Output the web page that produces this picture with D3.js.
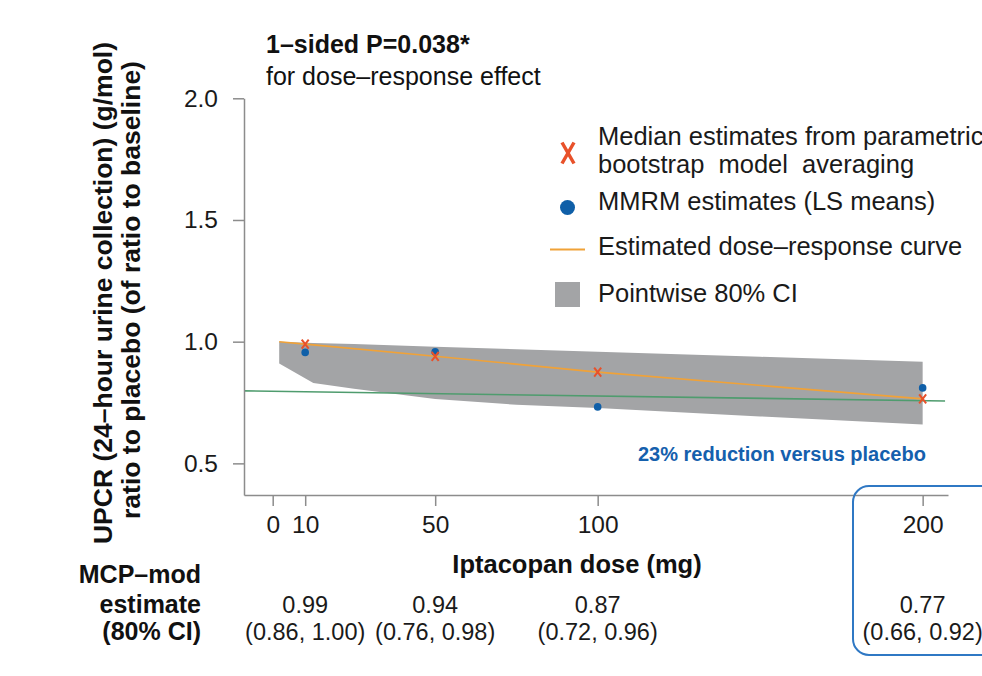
<!DOCTYPE html>
<html>
<head>
  <meta charset="utf-8">
  <title>Iptacopan dose-response</title>
  <script src="https://cdn.jsdelivr.net/npm/d3@7"></script>
  <style>
    body { margin: 0; background: #fff; }
    svg { font-family: "Liberation Sans", Arial, sans-serif; display: block; }
    .axis path, .axis line { stroke: #8c8c8c; stroke-width: 1.5; }
    .axis text { fill: #1a1a1a; font-family: "Liberation Sans", Arial, sans-serif; }
    .pre { white-space: pre; }
  </style>
</head>
<body>
<svg width="982" height="676"></svg>
<script>
  // data
  var doses = [10, 50, 100, 200];
  var medianEst = [0.99, 0.94, 0.875, 0.765];     // X markers (model averaging)
  var mmrmEst = [0.956, 0.958, 0.732, 0.81];      // blue dots (LS means)
  var curveDose = [2, 10, 50, 100, 200];
  var curveVal = [1.0, 0.99, 0.94, 0.875, 0.765];
  var bandDose = [2, 12.5, 25, 50, 75, 100, 150, 200];
  var bandLower = [0.91, 0.83, 0.807, 0.764, 0.741, 0.727, 0.693, 0.66];
  var bandUpper = [1.0, 0.995, 0.99, 0.979, 0.969, 0.959, 0.938, 0.917];
  var refDose = [-8.8, 206.9];
  var refVal = [0.798, 0.756];
  var xTicks = [0, 10, 50, 100, 200];
  var yTicks = [0.5, 1.0, 1.5, 2.0];
  var tableEst = ["0.99", "0.94", "0.87", "0.77"];
  var tableCI = ["(0.86, 1.00)", "(0.76, 0.98)", "(0.72, 0.96)", "(0.66, 0.92)"];

  var svg = d3.select("svg");

  var x = d3.scaleLinear().domain([-8.83, 207.8]).range([244, 948]);
  var y = d3.scaleLinear().domain([0.37, 2.0]).range([495, 98.3]);

  // band
  var bandData = bandDose.map(function(d, i) { return { d: d, lo: bandLower[i], hi: bandUpper[i] }; });
  svg.append("path")
    .datum(bandData)
    .attr("fill", "#a3a4a6")
    .attr("d", d3.area()
      .x(function(p) { return x(p.d); })
      .y0(function(p) { return y(p.lo); })
      .y1(function(p) { return y(p.hi); }));

  // reference line (green)
  svg.append("path")
    .datum(refDose.map(function(d, i) { return [d, refVal[i]]; }))
    .attr("fill", "none")
    .attr("stroke", "#4f9c6e")
    .attr("stroke-width", 1.6)
    .attr("d", d3.line().x(function(p) { return x(p[0]); }).y(function(p) { return y(p[1]); }));

  // estimated curve (orange)
  svg.append("path")
    .datum(curveDose.map(function(d, i) { return [d, curveVal[i]]; }))
    .attr("fill", "none")
    .attr("stroke", "#f0a238")
    .attr("stroke-width", 1.6)
    .attr("d", d3.line().x(function(p) { return x(p[0]); }).y(function(p) { return y(p[1]); }));

  // axes
  svg.append("g")
    .attr("class", "axis")
    .attr("transform", "translate(244,0)")
    .call(d3.axisLeft(y).tickValues(yTicks).tickFormat(d3.format(".1f"))
      .tickSize(11).tickSizeOuter(0).tickPadding(15))
    .selectAll("text").style("font-size", "24.5px");

  svg.append("g")
    .attr("class", "axis")
    .attr("transform", "translate(0,495)")
    .call(d3.axisBottom(x).tickValues(xTicks).tickFormat(d3.format("d"))
      .tickSize(11).tickSizeOuter(0).tickPadding(10))
    .selectAll("text").style("font-size", "24.5px");

  // MMRM dots
  svg.selectAll("circle.mmrm")
    .data(doses)
    .enter()
    .append("circle")
    .attr("class", "mmrm")
    .attr("cx", function(d) { return x(d); })
    .attr("cy", function(d, i) { return y(mmrmEst[i]); })
    .attr("r", 3.8)
    .attr("fill", "#0f5fa8");

  // median X markers
  function xMark(w, h) {
    return "M" + (-w / 2) + "," + (-h / 2) + "L" + (w / 2) + "," + (h / 2) +
      "M" + (w / 2) + "," + (-h / 2) + "L" + (-w / 2) + "," + (h / 2);
  }
  svg.selectAll("path.med")
    .data(doses)
    .enter()
    .append("path")
    .attr("class", "med")
    .attr("transform", function(d, i) { return "translate(" + x(d) + "," + y(medianEst[i]) + ")"; })
    .attr("d", xMark(7, 9))
    .attr("fill", "none")
    .attr("stroke", "#e8512a")
    .attr("stroke-width", 2);

  // title
  svg.append("text").attr("x", 266).attr("y", 53)
    .style("font-size", "25px").style("font-weight", "bold").attr("fill", "#111")
    .text("1–sided P=0.038*");
  svg.append("text").attr("x", 266).attr("y", 85)
    .style("font-size", "25px").attr("fill", "#111")
    .text("for dose–response effect");

  // y label
  var yl = svg.append("g").style("font-size", "26.5px").style("font-weight", "bold").attr("fill", "#111");
  yl.append("text").attr("transform", "translate(112,293) rotate(-90)")
    .attr("text-anchor", "middle").text("UPCR (24–hour urine collection) (g/mol)");
  yl.append("text").attr("transform", "translate(140,290) rotate(-90)")
    .attr("text-anchor", "middle").text("ratio to placebo (of ratio to baseline)");

  // x label
  svg.append("text").attr("x", 577).attr("y", 573)
    .attr("text-anchor", "middle")
    .style("font-size", "25.5px").style("font-weight", "bold").attr("fill", "#111")
    .text("Iptacopan dose (mg)");

  // legend
  var lg = svg.append("g").style("font-size", "25.5px").attr("fill", "#1a1a1a");
  lg.append("path")
    .attr("transform", "translate(568,153)")
    .attr("d", xMark(12, 21))
    .attr("fill", "none").attr("stroke", "#e8512a").attr("stroke-width", 3.5);
  lg.append("text").attr("x", 598).attr("y", 145).text("Median estimates from parametric");
  lg.append("text").attr("class", "pre").attr("xml:space", "preserve")
    .attr("x", 598).attr("y", 173).text("bootstrap  model  averaging");
  lg.append("circle").attr("cx", 567.5).attr("cy", 207.5).attr("r", 7.5).attr("fill", "#0f5fa8");
  lg.append("text").attr("x", 598).attr("y", 210).text("MMRM estimates (LS means)");
  lg.append("line").attr("x1", 550).attr("x2", 585).attr("y1", 249.5).attr("y2", 249.5)
    .attr("stroke", "#f0a238").attr("stroke-width", 2);
  lg.append("text").attr("x", 598).attr("y", 255).text("Estimated dose–response curve");
  lg.append("rect").attr("x", 555).attr("y", 282).attr("width", 25).attr("height", 25).attr("fill", "#a3a4a6");
  lg.append("text").attr("x", 598).attr("y", 302).text("Pointwise 80% CI");

  // annotation
  svg.append("text").attr("x", 638).attr("y", 461)
    .style("font-size", "20px").style("font-weight", "bold").attr("fill", "#1560ad")
    .text("23% reduction versus placebo");

  // highlight box for 200 mg
  svg.append("rect").attr("x", 853).attr("y", 486).attr("width", 200).attr("height", 169)
    .attr("rx", 16).attr("fill", "none").attr("stroke", "#2f78c4").attr("stroke-width", 2);

  // table
  var tl = svg.append("g").style("font-size", "25px").style("font-weight", "bold")
    .attr("fill", "#111").attr("text-anchor", "end");
  tl.append("text").attr("x", 201).attr("y", 583).text("MCP–mod");
  tl.append("text").attr("x", 201).attr("y", 613).text("estimate");
  tl.append("text").attr("x", 201).attr("y", 640).text("(80% CI)");

  var tv = svg.append("g").style("font-size", "23.5px").attr("fill", "#1a1a1a").attr("text-anchor", "middle");
  tv.selectAll("text.est").data(doses).enter().append("text").attr("class", "est")
    .attr("x", function(d) { return x(d); }).attr("y", 613)
    .text(function(d, i) { return tableEst[i]; });
  tv.selectAll("text.ci").data(doses).enter().append("text").attr("class", "ci")
    .attr("x", function(d) { return x(d); }).attr("y", 640)
    .text(function(d, i) { return tableCI[i]; });
</script>
</body>
</html>
